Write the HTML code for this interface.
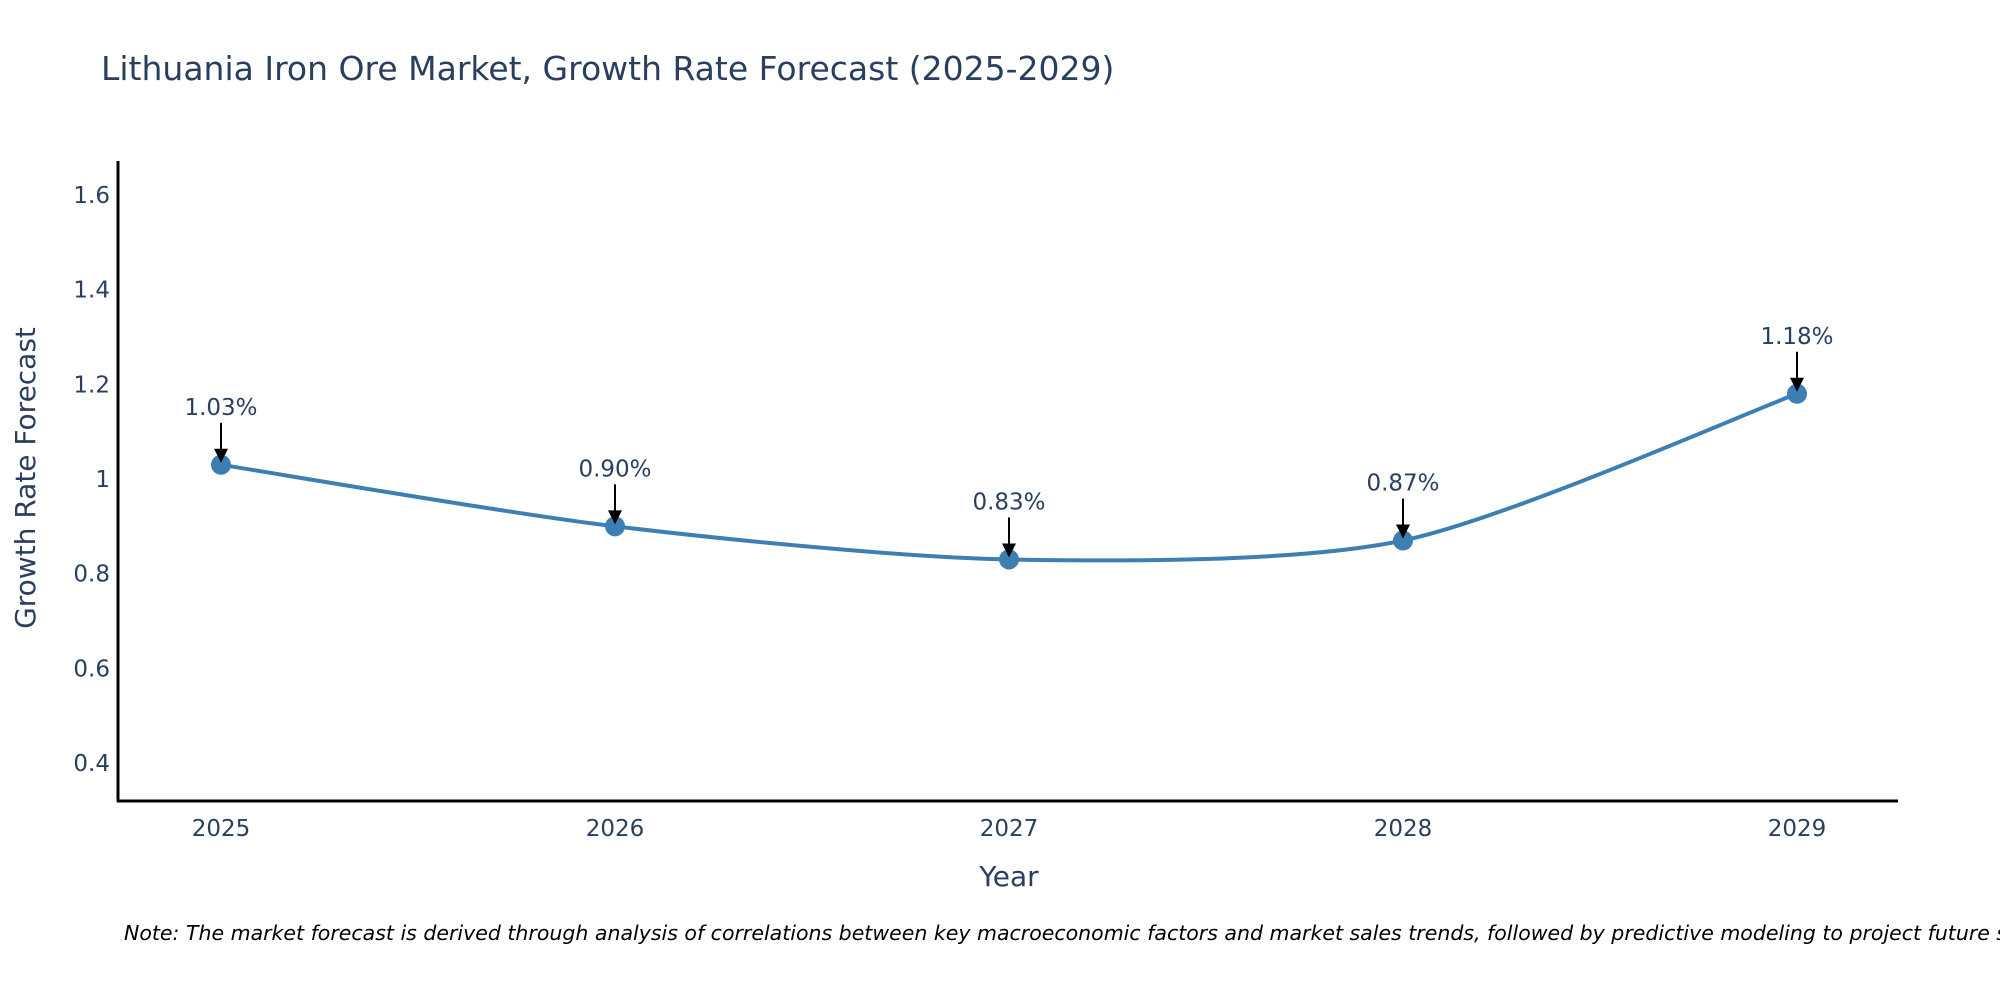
<!DOCTYPE html>
<html><head><meta charset="utf-8">
<style>
body{margin:0;background:#fff;}
svg{display:block;font-family:"DejaVu Sans","Liberation Sans",sans-serif;}
</style></head>
<body>
<svg id="chart" width="2000" height="1000" viewBox="0 0 2000 1000">
<text x="101" y="80" font-size="33" fill="#2a3f5f">Lithuania Iron Ore Market, Growth Rate Forecast (2025-2029)</text>
<g id="yticks"></g>
<g id="xticks"></g>
<line x1="118" y1="161" x2="118" y2="802" stroke="#000" stroke-width="3"/>
<line x1="117" y1="801" x2="1898" y2="801" stroke="#000" stroke-width="3"/>
<text transform="translate(35,478) rotate(-90)" text-anchor="middle" font-size="28" fill="#2a3f5f">Growth Rate Forecast</text>
<text x="1009" y="886" text-anchor="middle" font-size="28" fill="#2a3f5f">Year</text>
<g id="series"></g>
<g id="annots"></g>
<text x="124" y="940" font-size="20.5" font-style="italic" fill="#000">Note: The market forecast is derived through analysis of correlations between key macroeconomic factors and market sales trends, followed by predictive modeling to project future sales.</text>
</svg>
<script>
const years = [2025, 2026, 2027, 2028, 2029];
const growth = [1.03, 0.90, 0.83, 0.87, 1.18];
const labels = ["1.03%", "0.90%", "0.83%", "0.87%", "1.18%"];
const yTicks = [0.4, 0.6, 0.8, 1, 1.2, 1.4, 1.6];

const NS = "http://www.w3.org/2000/svg";
function xs(yr){ return 221 + (yr - 2025) * 394; }
function ys(v){ return 763 - (v - 0.4) / 0.2 * 94.67; }
function mk(tag, attrs, parent){
  const e = document.createElementNS(NS, tag);
  for (const k in attrs) e.setAttribute(k, attrs[k]);
  parent.appendChild(e); return e;
}
const yt = document.getElementById('yticks');
yTicks.forEach(v => {
  const t = mk('text', {x: 110, y: ys(v) + 8, 'text-anchor': 'end', 'font-size': 23, fill: '#2a3f5f'}, yt);
  
  
  t.textContent = String(v);
});
const xt = document.getElementById('xticks');
years.forEach(yr => {
  const t = mk('text', {x: xs(yr), y: 836, 'text-anchor': 'middle', 'font-size': 23, fill: '#2a3f5f'}, xt);
  
  
  t.textContent = String(yr);
});
const pts = years.map((yr, i) => [xs(yr), ys(growth[i])]);
let d = `M${pts[0][0]},${pts[0][1]}`;
const s = 0.8;
for (let i = 0; i < pts.length - 1; i++) {
  const p0 = pts[Math.max(0, i - 1)], p1 = pts[i], p2 = pts[i + 1], p3 = pts[Math.min(pts.length - 1, i + 2)];
  const c1 = [p1[0] + (p2[0] - p0[0]) / 6 * s, p1[1] + (p2[1] - p0[1]) / 6 * s];
  const c2 = [p2[0] - (p3[0] - p1[0]) / 6 * s, p2[1] - (p3[1] - p1[1]) / 6 * s];
  d += ` C${c1[0]},${c1[1]} ${c2[0]},${c2[1]} ${p2[0]},${p2[1]}`;
}
const sg = document.getElementById('series');
const line = mk('path', {d: d, fill: 'none', stroke: '#3d7fb3', 'stroke-width': 4}, sg);


const ag = document.getElementById('annots');
pts.forEach((p, i) => {
  const c = mk('circle', {cx: p[0], cy: p[1], r: 10, fill: '#3d7fb3'}, sg);
  
  
  const a = mk('line', {x1: p[0], y1: p[1] - 42, x2: p[0], y2: p[1] - 14, stroke: '#000', 'stroke-width': 2}, ag);
  
  
  const h = mk('polygon', {points: `${p[0]-7},${p[1]-16} ${p[0]+7},${p[1]-16} ${p[0]},${p[1]-2}`, fill: '#000'}, ag);
  
  
  const t = mk('text', {x: p[0], y: p[1] - 50, 'text-anchor': 'middle', 'font-size': 23, fill: '#2a3f5f'}, ag);
  
  
  t.textContent = labels[i];
});
</script>
</body></html>
